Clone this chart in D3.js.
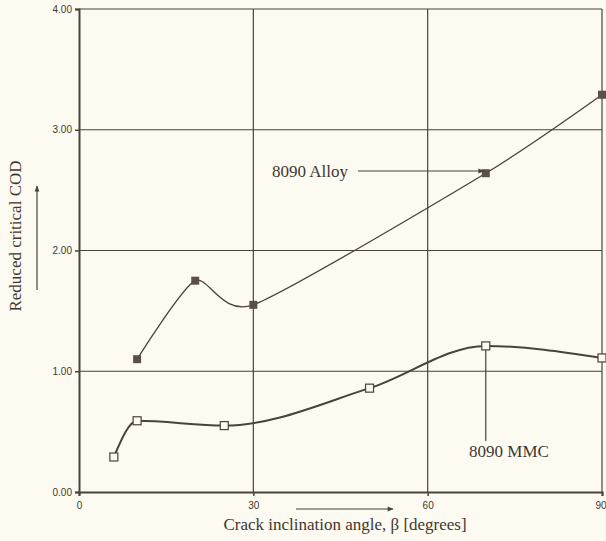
<!DOCTYPE html>
<html><head><meta charset="utf-8">
<script src="https://cdn.jsdelivr.net/npm/d3@7"></script>
<style>
html,body{margin:0;padding:0;background:#fcfaf1;}
svg{display:block;}
text{fill:#3f3832;}
</style></head>
<body>
<svg id="chart" width="606" height="541"></svg>
<script>
const xTicks = [0, 30, 60, 90];
const yTicks = [0, 1, 2, 3, 4];
const yTickLabels = ["0.00", "1.00", "2.00", "3.00", "4.00"];
const alloyAngle = [10, 20, 30, 70, 90];
const alloyCOD = [1.10, 1.75, 1.55, 2.64, 3.29];
const mmcAngle = [6, 10, 25, 50, 70, 90];
const mmcCOD = [0.29, 0.59, 0.55, 0.86, 1.21, 1.11];
const xTitle = "Crack inclination angle, \u03b2 [degrees]";
const yTitle = "Reduced critical COD";

const ink = "#4a423b";
const serif = "Liberation Serif, serif";
const svg = d3.select("#chart");
const x = d3.scaleLinear().domain([0, 90]).range([79, 602]);
const y = d3.scaleLinear().domain([0, 4]).range([492, 9]);

// grid
const g = svg.append("g");
g.selectAll(".gx").data(xTicks.slice(1)).join("line")
  .attr("x1", d => x(d)).attr("x2", d => x(d)).attr("y1", y(0)).attr("y2", y(4))
  .attr("stroke", ink).attr("stroke-width", 1.2);
g.selectAll(".gy").data(yTicks.slice(1)).join("line")
  .attr("x1", x(0)).attr("x2", x(90)).attr("y1", d => y(d)).attr("y2", d => y(d))
  .attr("stroke", ink).attr("stroke-width", 1.2);

// axes
const xAxis = d3.axisBottom(x).tickValues(xTicks).tickSize(4).tickPadding(6).tickFormat(d3.format("d"));
const yAxis = d3.axisLeft(y).tickValues(yTicks).tickSize(4).tickPadding(3).tickFormat((d, i) => yTickLabels[i]);
const ax = svg.append("g").attr("transform", `translate(0,${y(0)})`).call(xAxis);
const ay = svg.append("g").attr("transform", `translate(${x(0)},0)`).call(yAxis);
[ax, ay].forEach(a => {
  a.select(".domain").attr("stroke", ink).attr("stroke-width", 2);
  a.selectAll(".tick line").attr("stroke", ink).attr("stroke-width", 1.5);
  a.selectAll(".tick text").attr("font-family", "Liberation Sans, Arial, sans-serif")
    .attr("font-size", 10).attr("fill", "#4a423b");
});
// keep the last x tick label inside the page
ax.selectAll(".tick text").filter(d => d === 90).attr("text-anchor", "end").attr("dx", 4);

// axis titles
svg.append("text").attr("x", 345).attr("y", 530).attr("text-anchor", "middle")
  .attr("font-family", serif).attr("font-size", 17).text(xTitle);
svg.append("text").attr("transform", "translate(21,236) rotate(-90)").attr("text-anchor", "middle")
  .attr("font-family", serif).attr("font-size", 17).text(yTitle);

// arrow markers
const defs = svg.append("defs");
defs.append("marker").attr("id", "ah").attr("viewBox", "0 0 10 10").attr("refX", 9).attr("refY", 5)
  .attr("markerWidth", 7).attr("markerHeight", 5).attr("orient", "auto")
  .append("path").attr("d", "M0,1 L10,5 L0,9 Z").attr("fill", ink);

svg.append("line").attr("x1", 296).attr("x2", 393).attr("y1", 509).attr("y2", 509)
  .attr("stroke", ink).attr("stroke-width", 1.2).attr("marker-end", "url(#ah)");
svg.append("line").attr("x1", 37).attr("x2", 37).attr("y1", 290).attr("y2", 186)
  .attr("stroke", ink).attr("stroke-width", 1.2).attr("marker-end", "url(#ah)");

// series
const lineA = d3.line().x(d => x(d[0])).y(d => y(d[1])).curve(d3.curveCardinal.tension(0.35));
const lineM = d3.line().x(d => x(d[0])).y(d => y(d[1])).curve(d3.curveMonotoneX);
const alloy = alloyAngle.map((a, i) => [a, alloyCOD[i]]);
const mmc = mmcAngle.map((a, i) => [a, mmcCOD[i]]);

svg.append("path").datum(alloy).attr("d", lineA).attr("fill", "none").attr("stroke", ink).attr("stroke-width", 1.3);
svg.append("path").datum(mmc).attr("d", lineM).attr("fill", "none").attr("stroke", ink).attr("stroke-width", 2);

svg.selectAll(".alloyPt").data(alloy).join("rect")
  .attr("x", d => x(d[0]) - 4).attr("y", d => y(d[1]) - 4).attr("width", 8).attr("height", 8)
  .attr("fill", "#5a5048");
svg.selectAll(".mmcPt").data(mmc).join("rect")
  .attr("x", d => x(d[0]) - 4).attr("y", d => y(d[1]) - 4).attr("width", 8).attr("height", 8)
  .attr("fill", "#fcfaf1").attr("stroke", ink).attr("stroke-width", 1.2);

// annotations
svg.append("text").attr("x", 272).attr("y", 177).attr("font-family", serif)
  .attr("font-size", 17).text("8090 Alloy");
svg.append("line").attr("x1", 358).attr("x2", x(70) - 2).attr("y1", 171).attr("y2", 171)
  .attr("stroke", ink).attr("stroke-width", 1.2).attr("marker-end", "url(#ah)");
svg.append("line").attr("x1", x(70)).attr("x2", x(70)).attr("y1", y(1.21) + 4).attr("y2", 441)
  .attr("stroke", ink).attr("stroke-width", 1.2);
svg.append("text").attr("x", 509).attr("y", 457).attr("text-anchor", "middle").attr("font-family", serif)
  .attr("font-size", 17).text("8090 MMC");
</script>
</body></html>
